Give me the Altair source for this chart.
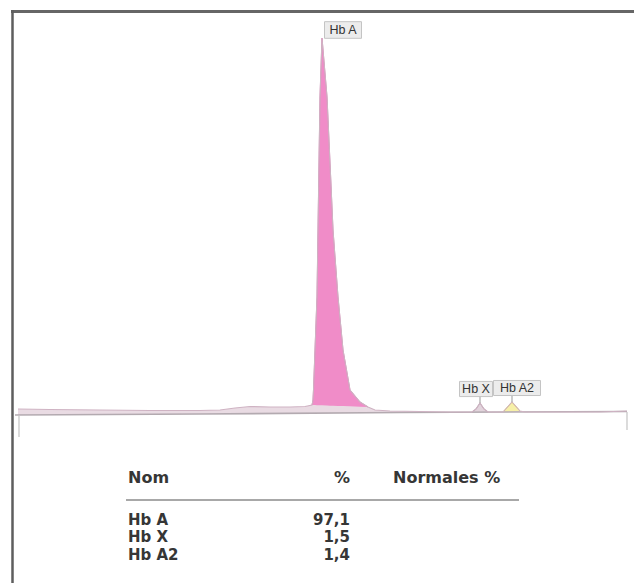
import altair as alt
import pandas as pd
import numpy as np

# ---- chromatogram trace (time in min, signal in mAU) ----
time_min = [0.18, 0.5, 1.0, 1.5, 2.0, 2.2, 2.35, 2.5, 2.7, 2.9, 3.05, 3.12, 3.13, 3.135,
            3.15, 3.17, 3.18, 3.19, 3.20, 3.22, 3.27, 3.30, 3.33, 3.38, 3.43, 3.50, 3.60,
            3.68, 3.75, 3.9, 4.5, 4.72, 4.76, 4.80, 4.84, 4.88, 5.0, 5.03, 5.12, 5.20,
            5.25, 6.0, 6.27]
signal = [5, 4.5, 4, 3.5, 3.5, 4, 6, 7.5, 7, 7, 7.5, 9, 14, 24,
          64, 117, 184, 251, 317, 376, 317, 251, 184, 117, 64, 24, 12,
          7, 4, 3, 2, 2, 5, 11, 5, 2, 2, 2, 12, 3,
          2, 2, 3]

# baseline of the detector
base_t = [0.15, 2.0, 4.0, 6.27]
base_v = [-1, 0, 1.5, 2.5]

# integration ticks (start / end of run)
tick_t = [0.19, 6.27]
tick_top = [-1, 2]
tick_bottom = [-23, -16]

# peaks
peak_names = ["Hb A", "Hb X", "Hb A2"]
peak_start = [3.12, 4.72, 5.03]
peak_end = [3.68, 4.88, 5.20]
peak_apex = [3.22, 4.80, 5.12]
peak_pct = ["97,1", "1,5", "1,4"]

# table headers
col_headers = ["Nom", "%", "Normales %"]

# ---- styles ----
peak_fill = {"Hb A": "#f08cc8", "Hb X": "#e2d4dc", "Hb A2": "#f7f0a8"}
peak_edge = {"Hb A": "#e27dba", "Hb X": "#a9a0a6", "Hb A2": "#e6d64a"}
label_dx = {"Hb A": 21, "Hb X": -4, "Hb A2": 5}
label_dy = {"Hb A": -8, "Hb X": -14, "Hb A2": -14}
box_shape = {"Hb A": ("M-1,-0.45L1,-0.45L1,0.45L-1,0.45Z", 37),
             "Hb X": ("M-1,-0.46L1,-0.46L1,0.46L-1,0.46Z", 33),
             "Hb A2": ("M-1,-0.32L1,-0.32L1,0.32L-1,0.32Z", 47)}
header_x = {"Nom": (128, "left"), "%": (350, "right"), "Normales %": (393, "left")}

W, H = 634, 583

trace = pd.DataFrame({"t": time_min, "v": signal})
trace["base"] = np.interp(trace["t"], base_t, base_v)
xs = alt.X("t:Q", scale=alt.Scale(domain=[0, 6.34], nice=False, zero=False), axis=None)
ys = alt.Y("v:Q", scale=alt.Scale(domain=[-169, 414], nice=False, zero=False), axis=None)

layers = [alt.Chart(trace).mark_area(color="#e9dbe3", opacity=1).encode(x=xs, y=ys, y2="base:Q")]

for i, name in enumerate(peak_names):
    s, e = peak_start[i], peak_end[i]
    sub = trace[(trace.t >= s) & (trace.t <= e)].copy()
    v0 = float(np.interp(s, time_min, signal))
    v1 = float(np.interp(e, time_min, signal))
    sub["drop"] = np.interp(sub["t"], [s, e], [v0, v1])
    layers.append(alt.Chart(sub).mark_area(color=peak_fill[name], opacity=1,
                                           line={"color": peak_edge[name], "strokeWidth": 1})
                  .encode(x=xs, y=ys, y2="drop:Q"))

base_df = pd.DataFrame({"t": base_t, "v": base_v})
layers.append(alt.Chart(base_df).mark_line(color="#b3aab0", strokeWidth=1.6).encode(x=xs, y=ys))
layers.append(alt.Chart(trace).mark_line(color="#cfb3c3", strokeWidth=1.1).encode(x=xs, y=ys))

tick_df = pd.DataFrame({"t": tick_t, "v": tick_top, "v2": tick_bottom})
layers.append(alt.Chart(tick_df).mark_rule(color="#c4c4c4", strokeWidth=1.2).encode(x=xs, y=ys, y2="v2:Q"))

for i, name in enumerate(peak_names):
    apex_v = float(np.interp(peak_apex[i], time_min, signal))
    d = pd.DataFrame({"t": [peak_apex[i]], "v": [apex_v], "v2": [apex_v - label_dy[name] - 7], "label": [name]})
    if name != "Hb A":
        layers.append(alt.Chart(d).mark_rule(color="#999999", strokeWidth=1).encode(x=xs, y=ys, y2="v2:Q"))
    path, bw = box_shape[name]
    layers.append(alt.Chart(d).mark_point(shape=path, size=bw * bw, filled=True, fill="#ececec",
                                          stroke="#c4c4c4", strokeWidth=1, opacity=1,
                                          xOffset=label_dx[name], yOffset=label_dy[name])
                  .encode(x=xs, y=ys))
    layers.append(alt.Chart(d).mark_text(font="Liberation Sans", fontSize=12.5, color="#333333",
                                         align="center", baseline="middle",
                                         dx=label_dx[name], dy=label_dy[name])
                  .encode(x=xs, y=ys, text="label:N"))

# ---- table ----
tbl = pd.DataFrame({"name": peak_names, "pct": peak_pct, "row": list(range(len(peak_names)))})
ry = alt.Y("row:Q", scale=alt.Scale(domain=[-29.885, 3.621], reverse=True, nice=False, zero=False), axis=None)
tfont = dict(font="DejaVu Sans", fontSize=15, fontWeight="bold", color="#363636", baseline="middle")
hfont = dict(tfont, fontSize=16)
one = pd.DataFrame({"k": [0]})
for h in col_headers:
    hx, al = header_x[h]
    layers.append(alt.Chart(one).mark_text(align=al, text=h, **hfont).encode(x=alt.value(hx), y=alt.value(478)))
layers.append(alt.Chart(one).mark_rule(color="#a8a8a8", strokeWidth=2).encode(
    x=alt.value(126), x2=alt.value(519), y=alt.value(500)))
layers.append(alt.Chart(tbl).mark_text(align="left", **tfont).encode(x=alt.value(128), y=ry, text="name:N"))
layers.append(alt.Chart(tbl).mark_text(align="right", **tfont).encode(x=alt.value(350), y=ry, text="pct:N"))

# frame
layers.append(alt.Chart(one).mark_rule(color="#666666", strokeWidth=3).encode(
    x=alt.value(11), x2=alt.value(W), y=alt.value(11.5)))
layers.append(alt.Chart(one).mark_rule(color="#5e5e5e", strokeWidth=2.5).encode(
    x=alt.value(12.5), y=alt.value(10), y2=alt.value(H)))

chart = alt.layer(*layers).resolve_scale(y="independent").properties(
    width=W, height=H, padding=0, background="white",
    autosize=alt.AutoSizeParams(type="none")).configure_view(stroke=None)

chart.save("out.html", embed_options={"renderer": "svg", "actions": False})
